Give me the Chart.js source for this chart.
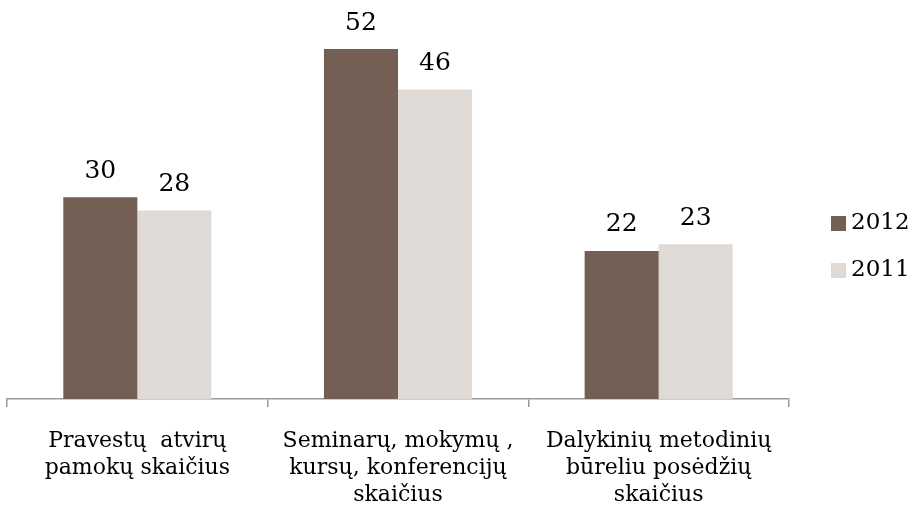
<!DOCTYPE html>
<html>
<head>
<meta charset="utf-8">
<script src="https://cdn.jsdelivr.net/npm/chart.js@4/dist/chart.umd.min.js"></script>
<style>
    html, body { margin: 0; padding: 0; background: #ffffff; }
    #chart { display: block; }
</style>
</head>
<body>
<canvas id="chart" width="912" height="505"></canvas>
<script>
const categories = [
    ["Pravestų  atvirų", "pamokų skaičius"],
    ["Seminarų, mokymų ,", "kursų, konferencijų", "skaičius"],
    ["Dalykinių metodinių", "būreliu posėdžių", "skaičius"]
];
const seriesNames = ["2012", "2011"];
const values2012 = [30, 52, 22];
const values2011 = [28, 46, 23];
const seriesColors = ["#735f54", "#dfdad6"];

const fontFamily = "'DejaVu Serif', 'Liberation Serif', serif";

// labels au-dessus des barres
const barValueLabels = {
    id: 'barValueLabels',
    afterDatasetsDraw(chart) {
        const ctx = chart.ctx;
        ctx.save();
        ctx.fillStyle = '#000000';
        ctx.font = '25px ' + fontFamily;
        ctx.textAlign = 'center';
        ctx.textBaseline = 'middle';
        chart.data.datasets.forEach((dataset, i) => {
            const meta = chart.getDatasetMeta(i);
            meta.data.forEach((bar, j) => {
                ctx.fillText(String(dataset.data[j]), bar.x, bar.y - 26);
            });
        });
        ctx.restore();
    }
};

// légende à droite, dessinée à la main
const sideLegend = {
    id: 'sideLegend',
    afterDraw(chart) {
        const ctx = chart.ctx;
        ctx.save();
        ctx.font = '23px ' + fontFamily;
        ctx.textBaseline = 'middle';
        ctx.textAlign = 'left';
        chart.data.datasets.forEach((dataset, i) => {
            const y = 223.5 + i * 47;
            ctx.fillStyle = dataset.backgroundColor;
            ctx.fillRect(831, y - 7.5, 15, 15);
            ctx.fillStyle = '#000000';
            ctx.fillText(dataset.label, 851, y);
        });
        ctx.restore();
    }
};

new Chart(document.getElementById('chart'), {
    type: 'bar',
    data: {
        labels: categories,
        datasets: [
            { label: seriesNames[0], data: values2012, backgroundColor: seriesColors[0] },
            { label: seriesNames[1], data: values2011, backgroundColor: seriesColors[1] }
        ]
    },
    options: {
        responsive: false,
        animation: false,
        devicePixelRatio: 1,
        layout: { padding: { left: 7, right: 123, top: 0, bottom: 0 } },
        datasets: {
            bar: { categoryPercentage: 0.568, barPercentage: 1.0 }
        },
        plugins: {
            legend: { display: false },
            tooltip: { enabled: false }
        },
        scales: {
            x: {
                grid: {
                    drawOnChartArea: false,
                    drawTicks: true,
                    tickLength: 8,
                    color: '#9a9a9a',
                    lineWidth: 1.5
                },
                border: { color: '#9a9a9a', width: 1.5 },
                ticks: {
                    color: '#000000',
                    padding: 21,
                    maxRotation: 0,
                    autoSkip: false,
                    font: { family: fontFamily, size: 22, lineHeight: 1.23 }
                },
                afterFit(scale) { scale.height = 106; }
            },
            y: {
                display: false,
                min: 0,
                max: 59.3
            }
        }
    },
    plugins: [barValueLabels, sideLegend]
});
</script>
</body>
</html>
